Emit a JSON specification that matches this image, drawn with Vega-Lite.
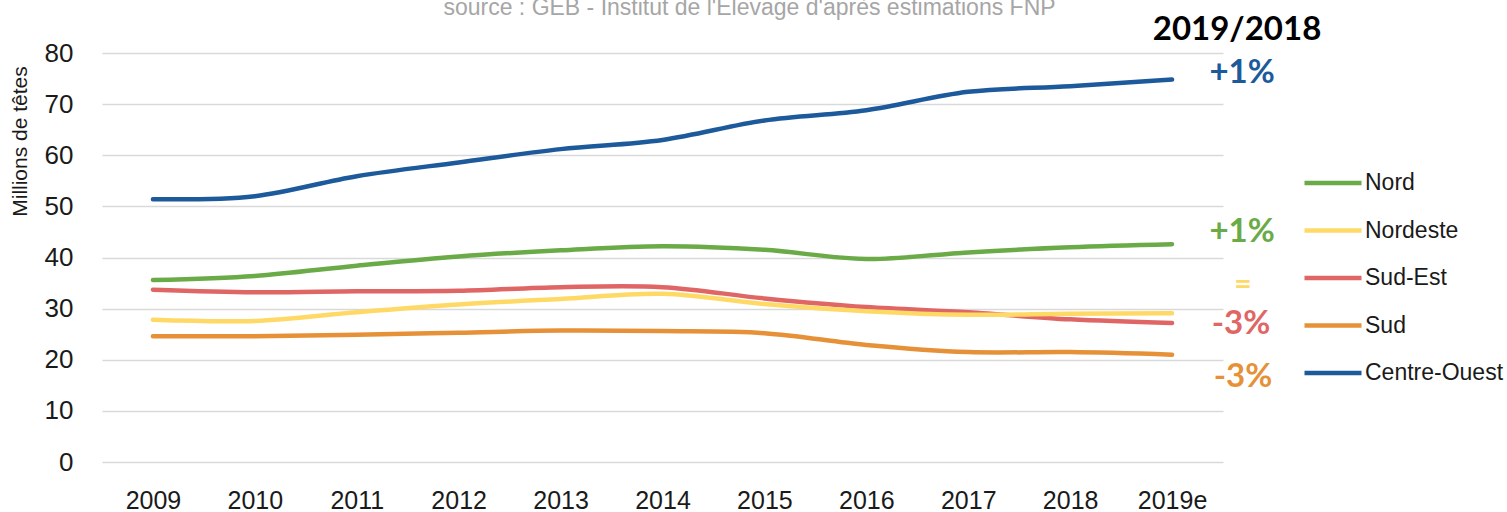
{
  "$schema": "https://vega.github.io/schema/vega-lite/v6.json",
  "width": 1121,
  "height": 409,
  "autosize": {"type": "none"},
  "padding": {"left": 102, "top": 53, "right": 284, "bottom": 50},
  "background": "white",
  "data": {
    "values": [
      {"year": "2009", "region": "Centre-Ouest", "value": 51.4},
      {"year": "2010", "region": "Centre-Ouest", "value": 52.0},
      {"year": "2011", "region": "Centre-Ouest", "value": 55.9},
      {"year": "2012", "region": "Centre-Ouest", "value": 58.6},
      {"year": "2013", "region": "Centre-Ouest", "value": 61.2},
      {"year": "2014", "region": "Centre-Ouest", "value": 63.0},
      {"year": "2015", "region": "Centre-Ouest", "value": 66.8},
      {"year": "2016", "region": "Centre-Ouest", "value": 68.8},
      {"year": "2017", "region": "Centre-Ouest", "value": 72.4},
      {"year": "2018", "region": "Centre-Ouest", "value": 73.5},
      {"year": "2019e", "region": "Centre-Ouest", "value": 74.8},
      {"year": "2009", "region": "Nord", "value": 35.6},
      {"year": "2010", "region": "Nord", "value": 36.4},
      {"year": "2011", "region": "Nord", "value": 38.4},
      {"year": "2012", "region": "Nord", "value": 40.2},
      {"year": "2013", "region": "Nord", "value": 41.4},
      {"year": "2014", "region": "Nord", "value": 42.2},
      {"year": "2015", "region": "Nord", "value": 41.5},
      {"year": "2016", "region": "Nord", "value": 39.7},
      {"year": "2017", "region": "Nord", "value": 41.0},
      {"year": "2018", "region": "Nord", "value": 42.0},
      {"year": "2019e", "region": "Nord", "value": 42.6},
      {"year": "2009", "region": "Sud-Est", "value": 33.7},
      {"year": "2010", "region": "Sud-Est", "value": 33.2},
      {"year": "2011", "region": "Sud-Est", "value": 33.4},
      {"year": "2012", "region": "Sud-Est", "value": 33.5},
      {"year": "2013", "region": "Sud-Est", "value": 34.2},
      {"year": "2014", "region": "Sud-Est", "value": 34.2},
      {"year": "2015", "region": "Sud-Est", "value": 32.0},
      {"year": "2016", "region": "Sud-Est", "value": 30.3},
      {"year": "2017", "region": "Sud-Est", "value": 29.3},
      {"year": "2018", "region": "Sud-Est", "value": 27.9},
      {"year": "2019e", "region": "Sud-Est", "value": 27.2},
      {"year": "2009", "region": "Nordeste", "value": 27.8},
      {"year": "2010", "region": "Nordeste", "value": 27.6},
      {"year": "2011", "region": "Nordeste", "value": 29.3},
      {"year": "2012", "region": "Nordeste", "value": 30.8},
      {"year": "2013", "region": "Nordeste", "value": 31.9},
      {"year": "2014", "region": "Nordeste", "value": 32.9},
      {"year": "2015", "region": "Nordeste", "value": 30.9},
      {"year": "2016", "region": "Nordeste", "value": 29.5},
      {"year": "2017", "region": "Nordeste", "value": 28.8},
      {"year": "2018", "region": "Nordeste", "value": 29.0},
      {"year": "2019e", "region": "Nordeste", "value": 29.1},
      {"year": "2009", "region": "Sud", "value": 24.6},
      {"year": "2010", "region": "Sud", "value": 24.6},
      {"year": "2011", "region": "Sud", "value": 24.9},
      {"year": "2012", "region": "Sud", "value": 25.3},
      {"year": "2013", "region": "Sud", "value": 25.7},
      {"year": "2014", "region": "Sud", "value": 25.6},
      {"year": "2015", "region": "Sud", "value": 25.2},
      {"year": "2016", "region": "Sud", "value": 22.9},
      {"year": "2017", "region": "Sud", "value": 21.5},
      {"year": "2018", "region": "Sud", "value": 21.5},
      {"year": "2019e", "region": "Sud", "value": 21.0}
    ]
  },
  "encoding": {
    "x": {
      "field": "year",
      "type": "ordinal",
      "scale": {"type": "point", "padding": 0.5},
      "axis": {
        "title": null,
        "labelAngle": 0,
        "labelFont": "Liberation Sans",
        "labelFontSize": 25,
        "labelColor": "#1a1a1a",
        "labelPadding": 26,
        "domain": false,
        "ticks": false,
        "grid": false
      }
    },
    "y": {
      "field": "value",
      "type": "quantitative",
      "scale": {"domain": [0, 80], "nice": false, "zero": true},
      "axis": {
        "title": "Millions de têtes",
        "titleFont": "Liberation Sans",
        "titleFontSize": 21,
        "titleFontWeight": "normal",
        "titleColor": "#1a1a1a",
        "titleAngle": -90,
        "titleX": -82,
        "titleY": 88,
        "titleAlign": "center",
        "titleBaseline": "middle",
        "values": [0, 10, 20, 30, 40, 50, 60, 70, 80],
        "labelFont": "Liberation Sans",
        "labelFontSize": 26,
        "labelColor": "#1a1a1a",
        "labelPadding": 29,
        "domain": false,
        "ticks": false,
        "grid": true,
        "gridColor": "#d9d9d9",
        "gridWidth": 1.5
      }
    }
  },
  "layer": [
    {
      "mark": {"type": "line", "interpolate": "cardinal", "strokeWidth": 4.5, "strokeCap": "round"},
      "encoding": {
        "color": {
          "field": "region",
          "type": "nominal",
          "scale": {
            "domain": ["Nord", "Nordeste", "Sud-Est", "Sud", "Centre-Ouest"],
            "range": ["#6aab47", "#ffd966", "#e06666", "#e69138", "#1c5a9c"]
          },
          "legend": {
            "title": null,
            "orient": "none",
            "legendX": 1217,
            "legendY": 116,
            "padding": 0,
            "symbolType": "M-2.5,0H2.5",
            "symbolSize": 520,
            "symbolStrokeWidth": 4.5,
            "labelFont": "Liberation Sans",
            "labelFontSize": 23,
            "labelColor": "#1a1a1a",
            "labelOffset": 18,
            "labelLimit": 400,
            "rowPadding": 21.5
          }
        }
      }
    },
    {
      "transform": [{"filter": "datum.year == '2014' && datum.region == 'Nord'"}],
      "mark": {"type": "text", "font": "Liberation Sans", "fontSize": 23, "color": "#a6a6a6", "align": "center", "baseline": "alphabetic", "dx": 87, "dy": -38},
      "encoding": {
        "y": {"datum": 80},
        "text": {"value": "source : GEB - Institut de l'Élevage d'après estimations FNP"}
      }
    },
    {
      "transform": [{"filter": "datum.year == '2019e' && datum.region == 'Centre-Ouest'"}],
      "mark": {"type": "text", "font": "Lato", "fontWeight": "bold", "fontSize": 33, "color": "#1c5a9c", "align": "center", "baseline": "middle", "dx": 70, "dy": -7},
      "encoding": {"text": {"value": "+1%"}}
    },
    {
      "transform": [{"filter": "datum.year == '2019e' && datum.region == 'Nord'"}],
      "mark": {"type": "text", "font": "Lato", "fontWeight": "bold", "fontSize": 33, "color": "#6aab47", "align": "center", "baseline": "middle", "dx": 70, "dy": -12},
      "encoding": {"text": {"value": "+1%"}}
    },
    {
      "transform": [{"filter": "datum.year == '2019e' && datum.region == 'Nordeste'"}],
      "mark": {"type": "text", "font": "Lato", "fontWeight": "bold", "fontSize": 30, "color": "#ffd966", "align": "center", "baseline": "middle", "dx": 71, "dy": -28},
      "encoding": {"text": {"value": "="}}
    },
    {
      "transform": [{"filter": "datum.year == '2019e' && datum.region == 'Sud-Est'"}],
      "mark": {"type": "text", "font": "Lato", "fontWeight": "bold", "fontSize": 33, "color": "#e06666", "align": "center", "baseline": "middle", "dx": 69, "dy": 1},
      "encoding": {"text": {"value": "-3%"}}
    },
    {
      "transform": [{"filter": "datum.year == '2019e' && datum.region == 'Sud'"}],
      "mark": {"type": "text", "font": "Lato", "fontWeight": "bold", "fontSize": 33, "color": "#e69138", "align": "center", "baseline": "middle", "dx": 71, "dy": 22},
      "encoding": {"text": {"value": "-3%"}}
    },
    {
      "transform": [{"filter": "datum.year == '2019e' && datum.region == 'Centre-Ouest'"}],
      "mark": {"type": "text", "font": "Lato", "fontWeight": "bold", "fontSize": 33, "color": "#000000", "align": "center", "baseline": "middle", "dx": 65, "dy": -50},
      "encoding": {"text": {"value": "2019/2018"}}
    }
  ],
  "config": {
    "view": {"stroke": null}
  }
}
